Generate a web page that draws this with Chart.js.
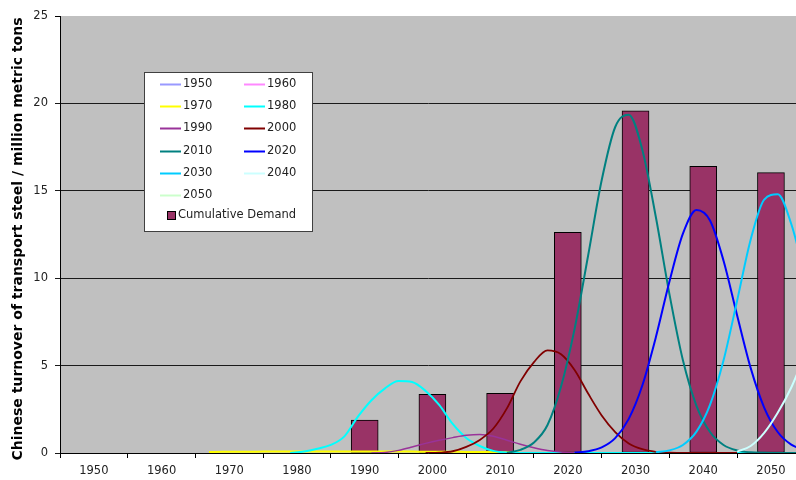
<!DOCTYPE html>
<html>
<head>
<meta charset="utf-8">
<title>Chinese transport steel turnover</title>
<script src="https://cdn.jsdelivr.net/npm/chart.js@4.4.0/dist/chart.umd.min.js"></script>
<style>
  html, body { margin: 0; padding: 0; background: #fff; }
</style>
</head>
<body>
<canvas id="steelChart" width="796" height="480"></canvas>
<script>
// decades shown on the x axis, one bar per decade of cumulative demand
const decades = [1950, 1960, 1970, 1980, 1990, 2000, 2010, 2020, 2030, 2040, 2050];
const barYears = [1990, 2000, 2010, 2020, 2030, 2040, 2050];
const cumulativeDemand = [1.89, 3.36, 3.41, 12.62, 19.58, 16.40, 16.04];

// turnover curves per cohort year, sampled every two years (null = no data)
const curveYears = [1967, 1969, 1971, 1973, 1975, 1977, 1979, 1981, 1983, 1985, 1987, 1989,
  1991, 1993, 1995, 1997, 1999, 2001, 2003, 2005, 2007, 2009, 2011, 2013, 2015, 2017, 2019,
  2021, 2023, 2025, 2027, 2029, 2031, 2033, 2035, 2037, 2039, 2041, 2043, 2045, 2047, 2049,
  2051, 2053, 2055];
const n = null;
const cohort1950 = [];
const cohort1960 = [];
const cohort1970 = [0.06, 0.07, 0.07, 0.07, 0.08, 0.08, 0.08, 0.08, 0.08, 0.08, 0.08, 0.08,
  0.08, 0.08, 0.08, 0.08, 0.07, 0.07, 0.07, 0.06, 0.06, 0.05, 0.04, 0.02, n, n, n,
  n, n, n, n, n, n, n, n, n, n, n, n, n, n, n, n, n, n];
const cohort1980 = [n, n, n, n, n, n, 0.0, 0.08, 0.24, 0.46, 0.95, 2.08,
  3.02, 3.70, 4.12, 4.06, 3.55, 2.75, 1.66, 0.86, 0.40, 0.12, 0.02, 0, 0, 0, 0,
  0, 0, 0, 0, 0, 0, 0, 0, 0, 0, 0, 0, 0, 0, 0, 0, 0, 0];
const cohort1990 = [n, n, n, n, n, n, n, n, n, n, n, n,
  0.0, 0.03, 0.15, 0.34, 0.55, 0.73, 0.88, 1.01, 1.06, 0.96, 0.73, 0.50, 0.30, 0.14, 0.05,
  0.01, n, n, n, n, n, n, n, n, n, n, n, n, n, n, n, n, n];
const cohort2000 = [n, n, n, n, n, n, n, n, n, n, n, n,
  n, n, n, n, 0.0, 0.02, 0.10, 0.35, 0.75, 1.40, 2.55, 4.10, 5.20, 5.87, 5.65,
  4.75, 3.40, 2.15, 1.20, 0.55, 0.22, 0.07, 0.02, 0, 0, 0, 0, 0, n, n, n, n, n];
const cohort2010 = [n, n, n, n, n, n, n, n, n, n, n, n,
  n, n, n, n, n, n, n, n, n, n, 0.02, 0.18, 0.60, 1.60, 3.80,
  7.10, 11.3, 15.6, 18.65, 19.35, 17.35, 13.5, 9.10, 5.30, 2.70, 1.20, 0.46, 0.15, 0.04, 0.01,
  0, 0, 0];
const cohort2020 = [n, n, n, n, n, n, n, n, n, n, n, n,
  n, n, n, n, n, n, n, n, n, n, n, n, n, n, n,
  0.03, 0.10, 0.32, 0.85, 1.95, 3.86, 6.62, 9.80, 12.55, 13.9, 13.3, 11.0, 7.88, 4.87, 2.60,
  1.20, 0.48, 0.17];
const cohort2030 = [n, n, n, n, n, n, n, n, n, n, n, n,
  n, n, n, n, n, n, n, n, n, n, n, n, n, n, n,
  n, n, n, n, n, n, 0.04, 0.15, 0.46, 1.22, 2.75, 5.30, 8.71, 12.2, 14.5,
  14.8, 13.1, 10.2];
const cohort2040 = [n, n, n, n, n, n, n, n, n, n, n, n,
  n, n, n, n, n, n, n, n, n, n, n, n, n, n, n,
  n, n, n, n, n, n, n, n, n, n, n, n, 0.08, 0.40, 1.15,
  2.30, 3.75, 5.60];
const cohort2050 = [];

const cohorts = [
  { label: '1950', values: cohort1950, color: '#9999ff', width: 2 },
  { label: '1960', values: cohort1960, color: '#ff88ff', width: 2 },
  { label: '1970', values: cohort1970, color: '#ffff00', width: 2 },
  { label: '1980', values: cohort1980, color: '#00ffff', width: 2 },
  { label: '1990', values: cohort1990, color: '#993399', width: 1.5 },
  { label: '2000', values: cohort2000, color: '#800000', width: 1.8 },
  { label: '2010', values: cohort2010, color: '#008080', width: 2 },
  { label: '2020', values: cohort2020, color: '#0000ff', width: 2 },
  { label: '2030', values: cohort2030, color: '#00ccff', width: 2 },
  { label: '2040', values: cohort2040, color: '#ccffff', width: 2 },
  { label: '2050', values: cohort2050, color: '#ccffcc', width: 2 }
];
const barColor = '#993366';
const fontFamily = "'DejaVu Sans', Verdana, sans-serif";

function toPoints(values) {
  const pts = [];
  values.forEach((v, i) => {
    if (v !== null) pts.push({ x: curveYears[i], y: v });
  });
  return pts;
}

const datasets = [{
  type: 'bar',
  label: 'Cumulative Demand',
  data: barYears.map((yr, i) => ({ x: yr, y: cumulativeDemand[i] })),
  backgroundColor: barColor,
  borderColor: '#000',
  borderWidth: 1,
  borderSkipped: false,
  barThickness: 27,
  order: 100
}];

// later cohorts get drawn on top of earlier ones
cohorts.forEach((c, i) => {
  datasets.push({
    type: 'line',
    label: c.label,
    data: toPoints(c.values),
    borderColor: c.color,
    borderWidth: c.width,
    pointRadius: 0,
    cubicInterpolationMode: 'monotone',
    fill: false,
    order: cohorts.length - i
  });
});

const plotBackground = {
  id: 'plotBackground',
  beforeDraw(chart) {
    const { ctx, chartArea: a } = chart;
    ctx.save();
    ctx.fillStyle = '#c0c0c0';
    ctx.fillRect(a.left, a.top, a.right - a.left, a.bottom - a.top);
    ctx.restore();
  }
};

const boxLegend = {
  id: 'boxLegend',
  afterDraw(chart) {
    const ctx = chart.ctx;
    const left = 144, top = 72, w = 168, h = 159;
    const rowH = 22.35, firstRow = 83.5;
    ctx.save();
    ctx.fillStyle = '#fff';
    ctx.fillRect(left, top, w, h);
    ctx.strokeStyle = '#404040';
    ctx.lineWidth = 1;
    ctx.strokeRect(left + 0.5, top + 0.5, w, h);

    ctx.font = '11.5px ' + fontFamily;
    ctx.textBaseline = 'middle';
    ctx.textAlign = 'left';
    cohorts.forEach((c, i) => {
      const col = i % 2;
      const row = Math.floor(i / 2);
      const y = Math.round(firstRow + row * rowH) + 0.5;
      const x0 = col === 0 ? 160 : 244;
      ctx.strokeStyle = c.color;
      ctx.lineWidth = 2;
      ctx.beginPath();
      ctx.moveTo(x0, y);
      ctx.lineTo(x0 + 21, y);
      ctx.stroke();
      ctx.fillStyle = '#222';
      ctx.fillText(c.label, x0 + 23, y);
    });

    const yc = 215.5;
    ctx.fillStyle = barColor;
    ctx.fillRect(167.5, yc - 4, 8, 8);
    ctx.strokeStyle = '#000';
    ctx.lineWidth = 1;
    ctx.strokeRect(167.5, yc - 4, 8, 8);
    ctx.fillStyle = '#222';
    ctx.fillText('Cumulative Demand', 178, yc);
    ctx.restore();
  }
};

const axisTitle = {
  id: 'axisTitle',
  afterDraw(chart) {
    const ctx = chart.ctx;
    const a = chart.chartArea;
    ctx.save();
    // tick mark at the top of the value axis
    ctx.strokeStyle = '#000';
    ctx.lineWidth = 1;
    ctx.beginPath();
    ctx.moveTo(a.left - 5, Math.round(a.top) + 0.5);
    ctx.lineTo(a.left, Math.round(a.top) + 0.5);
    ctx.stroke();

    ctx.translate(18, 239);
    ctx.rotate(-Math.PI / 2);
    ctx.font = 'bold 14px ' + fontFamily;
    ctx.fillStyle = '#000';
    ctx.textAlign = 'center';
    ctx.textBaseline = 'middle';
    ctx.fillText('Chinese turnover of transport steel / million metric tons', 0, 0);
    ctx.restore();
  }
};

new Chart(document.getElementById('steelChart'), {
  data: { datasets: datasets },
  plugins: [plotBackground, boxLegend, axisTitle],
  options: {
    responsive: false,
    animation: false,
    layout: { padding: { top: 16, right: 0, bottom: 0, left: 0 } },
    plugins: {
      legend: { display: false },
      tooltip: { enabled: false }
    },
    scales: {
      x: {
        type: 'linear',
        offset: false,
        min: 1945,
        max: 2053.7,
        afterBuildTicks: scale => {
          const ticks = [];
          decades.forEach(d => {
            ticks.push({ value: d - 5 });
            ticks.push({ value: d });
          });
          scale.ticks = ticks;
        },
        afterFit: scale => { scale.height = 27; },
        grid: {
          offset: false,
          drawOnChartArea: false,
          tickLength: 5,
          color: ctx => (ctx.tick && ctx.tick.value % 10 === 5) ? '#000' : 'rgba(0,0,0,0)'
        },
        border: { color: '#000' },
        ticks: {
          autoSkip: false,
          maxRotation: 0,
          padding: 6,
          color: '#222',
          font: { family: fontFamily, size: 11.5 },
          callback: v => (v % 10 === 0 ? String(v) : '')
        }
      },
      y: {
        min: 0,
        max: 25,
        afterFit: scale => { scale.width = 60; },
        grid: {
          tickLength: 5,
          color: ctx => (ctx.tick && ctx.tick.value === 25) ? 'rgba(0,0,0,0)' : '#1a1a1a'
        },
        border: { color: '#000' },
        ticks: {
          stepSize: 5,
          padding: 7,
          color: '#222',
          font: { family: fontFamily, size: 11.5 }
        }
      }
    }
  }
});
</script>
</body>
</html>
